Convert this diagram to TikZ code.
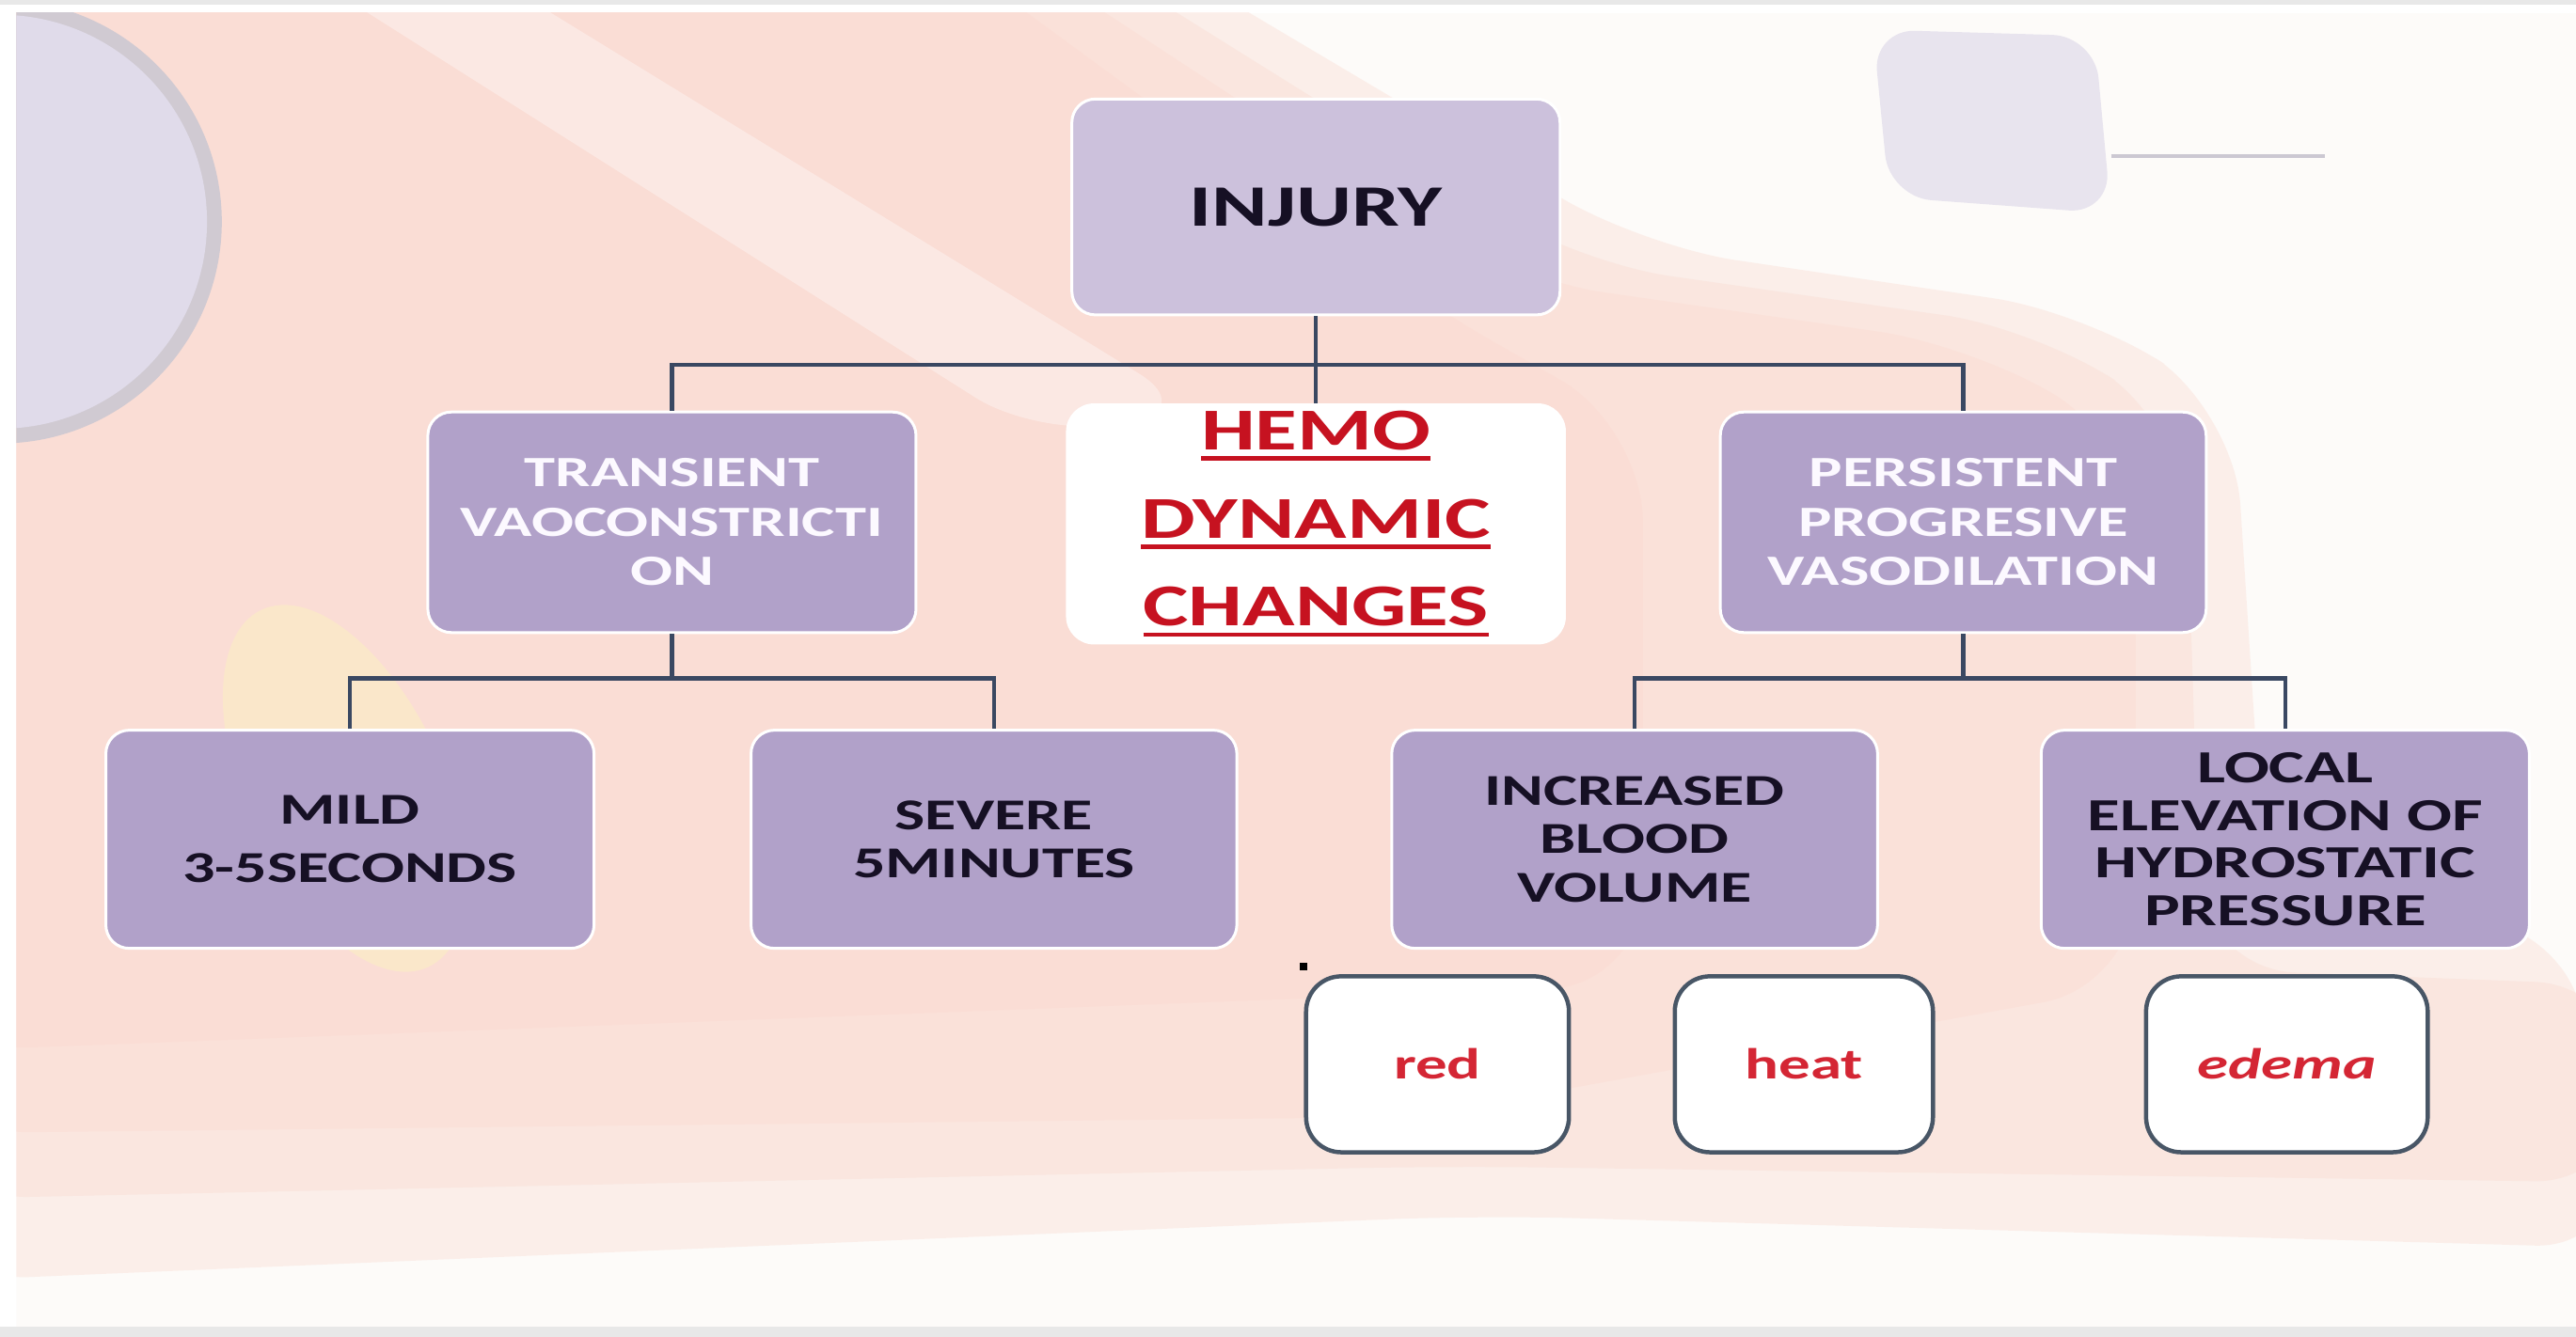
\documentclass[tikz,border=0pt]{standalone}
\usepackage{fontspec}
\setmainfont{Carlito}[FakeStretch=1.45]
\newcommand{\redscore}[1]{\setbox0\hbox{#1}\rlap{\rule[-4.5pt]{\wd0}{1.8pt}}\box0}

\definecolor{paper}{RGB}{253,251,249}
\definecolor{blush}{RGB}{250,216,206}
\definecolor{cream}{RGB}{250,238,196}
\definecolor{mist}{RGB}{224,219,234}
\definecolor{rim}{RGB}{204,200,210}
\definecolor{edgegray}{RGB}{232,232,232}
\definecolor{boxlav}{RGB}{177,161,201}
\definecolor{injlav}{RGB}{204,193,220}
\definecolor{lavwhite}{RGB}{252,249,255}
\definecolor{inkdark}{RGB}{22,16,36}
\definecolor{linkblue}{RGB}{58,72,98}
\definecolor{signline}{RGB}{72,86,102}
\definecolor{hemored}{RGB}{198,18,32}
\definecolor{signred}{RGB}{212,38,52}

\tikzset{
  lavbox/.style={draw=white, line width=1.2pt, fill=boxlav, rounded corners=10pt, align=center, inner sep=2pt},
  topbox/.style={lavbox, text=lavwhite, minimum width=208pt, minimum height=94pt, font=\fontsize{18.4}{21}\selectfont\bfseries},
  lowbox/.style={lavbox, text=inkdark, minimum width=208pt, minimum height=93pt, font=\fontsize{18.8}{20.6}\selectfont\bfseries},
  signbox/.style={draw=signline, line width=1.8pt, fill=white, rounded corners=15pt, minimum height=75pt, text=signred, font=\fontsize{18.5}{22}\selectfont\bfseries},
  link/.style={draw=linkblue, line width=1.8pt},
  wash/.style={fill=blush, fill opacity=0.35, rounded corners=40pt},
}

\begin{document}
\begin{tikzpicture}[x=0.70pt,y=0.70pt,yscale=-1,xscale=1]
\useasboundingbox (0,0) rectangle (1568,814);

%Background: faded photograph
\fill[white] (0,0) rectangle (1568,814);
\fill[edgegray] (0,0) rectangle (1568,3);
\fill[edgegray] (0,808) rectangle (1568,814);
\begin{scope}
\clip (10,8) rectangle (1568,808);
\fill[paper] (10,8) rectangle (1568,808);
%pink wash, layered to fade at the edges
\fill[wash] (-40,-40) -- (680,-40) -- (1000,150) -- (1270,190) -- (1360,250) -- (1380,560) -- (1560,560) -- (1600,760) -- (900,740) -- (-40,780) -- cycle;
\fill[wash] (-40,-40) -- (640,-40) -- (960,160) -- (1240,200) -- (1330,260) -- (1340,590) -- (1600,600) -- (1600,720) -- (880,710) -- (-40,730) -- cycle;
\fill[wash] (-40,-40) -- (600,-40) -- (920,170) -- (1200,210) -- (1300,270) -- (1300,600) -- (860,680) -- (-40,690) -- cycle;
\fill[wash] (-40,-40) -- (560,-40) -- (860,180) -- (1000,260) -- (1000,600) -- (-40,640) -- cycle;
%light streak
\fill[white, fill opacity=0.35, rounded corners=30pt] (180,-20) -- (290,-20) -- (730,250) -- (630,265) -- cycle;
%Shape: Circle
\fill[rim, fill opacity=0.9] (0,135) circle (135);
\fill[mist] (0,135) circle (126);
%Shape: Blob
\fill[cream, fill opacity=0.6, rotate around={-25:(210,480)}] (210,480) ellipse (60 and 120);
%Shape: Rounded Rectangle
\fill[mist, fill opacity=0.7, rounded corners=18pt] (1140,18) -- (1275,22) -- (1285,130) -- (1150,120) -- cycle;
%Straight Lines
\draw[rim, line width=1.5pt] (1285,95) -- (1415,95);
\end{scope}

%Nodes
\node[lavbox, fill=injlav, text=inkdark, minimum width=208pt, minimum height=92pt, font=\fontsize{25}{28}\selectfont\bfseries] (injury) at (801,126) {INJURY};
\node[topbox] (transient) at (409,318) {TRANSIENT\\VAOCONSTRICTI\\ON};
\node[fill=white, rounded corners=12pt, minimum width=213pt, minimum height=98pt, align=center, text=hemored, font=\fontsize{25.3}{37.5}\selectfont\bfseries] (hemo) at (801,319) {\redscore{HEMO}\\\redscore{DYNAMIC}\\\redscore{CHANGES}};
\node[topbox, minimum width=207pt] (persistent) at (1195,318) {PERSISTENT\\PROGRESIVE\\VASODILATION};
\node[lowbox] (mild) at (213,511) {MILD\\[4pt]3-5SECONDS};
\node[lowbox, minimum width=207pt] (severe) at (605,511) {SEVERE\\5MINUTES};
\node[lowbox, minimum width=207pt] (increased) at (995,511) {INCREASED\\BLOOD\\VOLUME};
\node[lowbox, font=\fontsize{19.6}{20.3}\selectfont\bfseries] (local) at (1391,511) {LOCAL\\ELEVATION OF\\HYDROSTATIC\\PRESSURE};
\node[signbox, minimum width=112pt] (red) at (875,648) {red};
\node[signbox, minimum width=110pt] (heat) at (1098,648) {heat};
\node[signbox, minimum width=120pt] (edema) at (1392,648) {\itshape edema};
\fill[black] (791,586) rectangle (796,591);

%Connectors
\coordinate (busA) at (801,222);
\coordinate (busB) at (409,413);
\coordinate (busC) at (1195,413);
\draw[link] (injury.south) -- (hemo.north);
\draw[link] (transient.north) |- (busA) -| (persistent.north);
\draw[link] (transient.south) -- (busB);
\draw[link] (mild.north) |- (busB) -| (severe.north);
\draw[link] (persistent.south) -- (busC);
\draw[link] (increased.north) |- (busC) -| (local.north);

\end{tikzpicture}
\end{document}
